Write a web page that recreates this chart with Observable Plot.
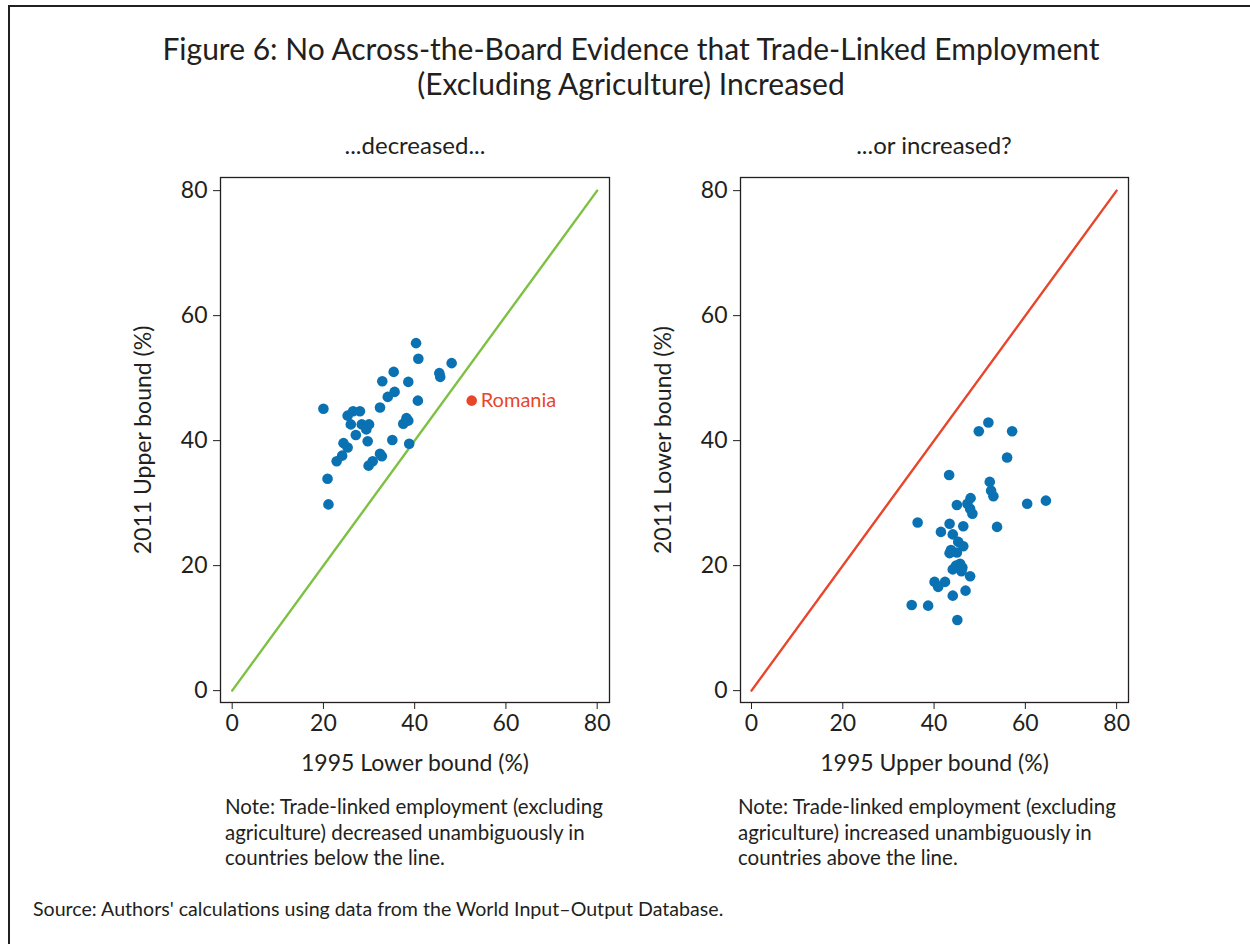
<!DOCTYPE html>
<html>
<head>
<meta charset="utf-8">
<script src="https://cdn.jsdelivr.net/npm/d3@7"></script>
<script src="https://cdn.jsdelivr.net/npm/@observablehq/plot@0.6"></script>
<style>
  body { margin: 0; background: #fff; }
  #root { position: relative; width: 1250px; height: 944px; font-family: Lato, "Open Sans", sans-serif; color: #231f20; overflow: hidden; background: #fff; }
  .border { position: absolute; left: 8px; top: 5px; right: -4px; bottom: -4px; border-top: 2px solid #231f20; border-left: 2px solid #231f20; }
  .title { position: absolute; left: 0; width: 1262px; top: 31px; text-align: center; font-size: 30px; line-height: 35px; }
  .sub { position: absolute; top: 130px; width: 400px; text-align: center; font-size: 24px; line-height: 30px; }
  .note { position: absolute; top: 794px; font-size: 20.5px; line-height: 25.5px; }
  .source { position: absolute; left: 33px; top: 897px; font-family: Lato, sans-serif; font-size: 19.6px; line-height: 24px; }
  .panel { position: absolute; top: 170px; }
</style>
</head>
<body>
<div id="root">
  <div class="border"></div>
  <div class="title">Figure 6: No Across-the-Board Evidence that Trade-Linked Employment<br>(Excluding Agriculture) Increased</div>
  <div class="sub" style="left:215px">...decreased...</div>
  <div class="sub" style="left:734px">...or increased?</div>
  <div class="panel" id="left" style="left:130px"></div>
  <div class="panel" id="right" style="left:650px"></div>
  <div class="note" style="left:225px">Note: Trade-linked employment (excluding<br>agriculture) decreased unambiguously in<br>countries below the line.</div>
  <div class="note" style="left:738px">Note: Trade-linked employment (excluding<br>agriculture) increased unambiguously in<br>countries above the line.</div>
  <div class="source">Source: Authors' calculations using data from the World Input–Output Database.</div>
</div>
<script>
// ---- Data ----
const tickValues = [0, 20, 40, 60, 80];
const diagonal = [0, 80];

// Left panel: 1995 lower bound (x) vs 2011 upper bound (y)
const leftX = [20.0, 20.9, 21.1, 22.9, 24.1, 24.4, 25.3, 25.3, 26.0, 26.5, 27.1, 28.0, 28.4, 29.4, 30.0, 29.7, 29.9, 30.8, 32.4, 32.4, 32.8, 32.9, 34.1, 35.1, 35.4, 35.6, 37.5, 38.2, 38.6, 38.6, 38.8, 40.3, 40.7, 40.8, 45.4, 45.6, 48.1];
const leftY = [45.1, 33.9, 29.8, 36.7, 37.6, 39.6, 38.9, 44.0, 42.6, 44.7, 40.9, 44.7, 42.6, 41.8, 42.6, 39.9, 36.0, 36.7, 45.3, 37.9, 37.5, 49.5, 47.0, 40.1, 51.0, 47.8, 42.7, 43.6, 43.2, 49.4, 39.5, 55.6, 46.4, 53.1, 50.8, 50.2, 52.4];
const highlightName = ["Romania"];
const highlightX = [52.5];
const highlightY = [46.4];

// Right panel: 1995 upper bound (x) vs 2011 lower bound (y)
const rightX = [51.9, 49.8, 57.1, 56.0, 43.3, 52.2, 52.5, 53.0, 60.4, 64.5, 48.0, 45.0, 47.3, 47.9, 48.4, 36.4, 43.4, 46.4, 53.8, 41.5, 44.1, 45.3, 46.4, 43.7, 45.0, 43.4, 45.7, 44.8, 46.2, 44.1, 46.0, 47.9, 40.1, 42.4, 40.9, 46.9, 44.1, 35.1, 38.7, 45.1];
const rightY = [42.9, 41.5, 41.5, 37.3, 34.5, 33.4, 32.0, 31.1, 29.9, 30.4, 30.8, 29.7, 29.9, 29.1, 28.3, 26.9, 26.7, 26.3, 26.2, 25.4, 25.0, 23.8, 23.1, 22.5, 22.1, 22.0, 20.3, 20.0, 19.7, 19.4, 19.1, 18.3, 17.4, 17.4, 16.6, 16.0, 15.2, 13.7, 13.6, 11.3];

// ---- Styles ----
const ink = "#231f20";
const dotBlue = "#0a72b3";
const lineGreen = "#7dc142";
const lineRed = "#e8462a";

function panel({xs, ys, color, xlabel, ylabel, xDomain, marginRight, extra = []}) {
  const pts = xs.map((x, i) => ({x, y: ys[i]}));
  return Plot.plot({
    width: 500, height: 620,
    marginLeft: 90, marginRight, marginTop: 7, marginBottom: 88,
    x: {domain: xDomain},
    y: {domain: [-1.9, 82.1]},
    style: {fontFamily: "Lato, sans-serif", fontSize: "23px", color: ink, background: "white", overflow: "visible"},
    marks: [
      Plot.frame({stroke: ink, strokeWidth: 1.3}),
      Plot.axisX({ticks: tickValues, tickSize: 7, tickPadding: 5, tickFormat: d => d, label: xlabel, labelAnchor: "center", labelArrow: "none", labelOffset: 68}),
      Plot.axisY({ticks: tickValues, tickSize: 7, tickPadding: 6, tickFormat: d => d, label: ylabel, labelAnchor: "center", labelArrow: "none", labelOffset: 86}),
      Plot.line(diagonal, {x: d => d, y: d => d, stroke: color, strokeWidth: 2.4}),
      Plot.dot(pts, {x: "x", y: "y", r: 5.3, fill: dotBlue, stroke: "none"}),
      ...extra
    ]
  });
}

const hl = highlightName.map((name, i) => ({name, x: highlightX[i], y: highlightY[i]}));

document.getElementById("left").append(panel({
  xs: leftX, ys: leftY, color: lineGreen,
  xlabel: "1995 Lower bound (%)", ylabel: "2011 Upper bound (%)",
  xDomain: [-2.56, 82.7], marginRight: 21,
  extra: [
    Plot.dot(hl, {x: "x", y: "y", r: 5.3, fill: lineRed, stroke: "none"}),
    Plot.text(hl, {x: "x", y: "y", text: "name", dx: 9, textAnchor: "start", fill: lineRed, fontSize: 20})
  ]
}));

document.getElementById("right").append(panel({
  xs: rightX, ys: rightY, color: lineRed,
  xlabel: "1995 Upper bound (%)", ylabel: "2011 Lower bound (%)",
  xDomain: [-2.41, 82.6], marginRight: 22
}));
</script>
</body>
</html>
